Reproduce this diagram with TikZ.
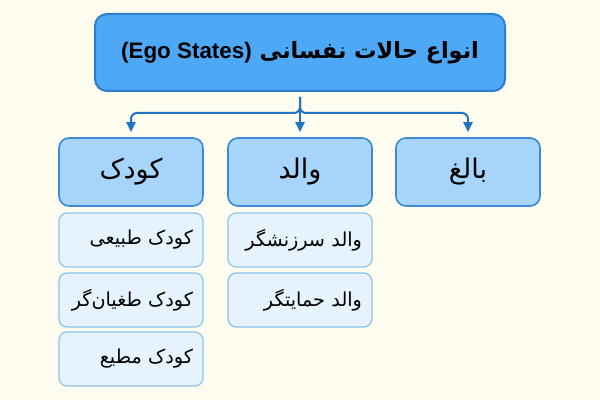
\documentclass[tikz,border=0pt]{standalone}
\usepackage{fontspec}
\setmainfont{Liberation Sans}
\newfontfamily\arabicfont[Script=Arabic]{DejaVu Sans}
\TeXXeTstate=1
\usepackage{xcolor}
\usepackage{tikz}
\usetikzlibrary{arrows.meta}

\definecolor{paper}{RGB}{253,252,238}
\definecolor{topfill}{RGB}{77,168,245}
\definecolor{topline}{RGB}{44,126,208}
\definecolor{kidfill}{RGB}{166,212,250}
\definecolor{kidline}{RGB}{58,138,216}
\definecolor{subfill}{RGB}{230,243,253}
\definecolor{subline}{RGB}{142,195,238}
\definecolor{linkcol}{RGB}{34,114,195}

\begin{document}
\begin{tikzpicture}[x=0.5pt,y=-0.5pt,
  topbox/.style={draw=topline,fill=topfill,line width=1pt,rounded corners=6pt,
    minimum width=205pt,minimum height=38.5pt,inner sep=0pt,
    font=\arabicfont\bfseries\fontsize{11.2}{14}\selectfont},
  kidbox/.style={draw=kidline,fill=kidfill,line width=0.8pt,rounded corners=5pt,
    minimum width=72pt,minimum height=34pt,inner sep=0pt,
    font=\arabicfont\fontsize{13.5}{16}\selectfont},
  subbox/.style={draw=subline,fill=subfill,line width=0.6pt,rounded corners=4pt,
    text width=62pt,inner xsep=5pt,inner ysep=0pt,minimum height=27pt,align=right,
    font=\arabicfont\fontsize{9.6}{12}\selectfont},
  link/.style={draw=linkcol,line width=1pt,rounded corners=3pt,
    -{Triangle[width=4.5pt,length=5pt]},shorten <=2.5pt,shorten >=2.5pt}]

\fill[paper](0,0) rectangle (600,400);

% title
\node[topbox](egostates) at (300,52.5){\beginR انواع حالات نفسانی \beginL{\rmfamily\bfseries(Ego States)}\endL\endR};

% states
\node[kidbox](kudak) at (131,172){\beginR کودک\endR};
\node[kidbox](vald) at (300,172){\beginR والد\endR};
\node[kidbox](baligh) at (468,172){\beginR بالغ\endR};

% kinds
\node[subbox](kudak1) at (131,240){\mbox{\beginR کودک طبیعی\endR}};
\node[subbox](kudak2) at (131,300){\mbox{\beginR کودک طغیان‌گر\endR}};
\node[subbox](kudak3) at (131,359){\mbox{\beginR کودک مطیع\endR}};
\node[subbox](vald1) at (300,240){\mbox{\beginR والد سرزنشگر\endR}};
\node[subbox](vald2) at (300,300){\mbox{\beginR والد حمایتگر\endR}};

\coordinate(bus) at (300,113);
\draw[link](egostates.south)--(vald.north);
\draw[link](egostates.south)|-(bus -| kudak.north)--(kudak.north);
\draw[link](egostates.south)|-(bus -| baligh.north)--(baligh.north);

\end{tikzpicture}
\end{document}
